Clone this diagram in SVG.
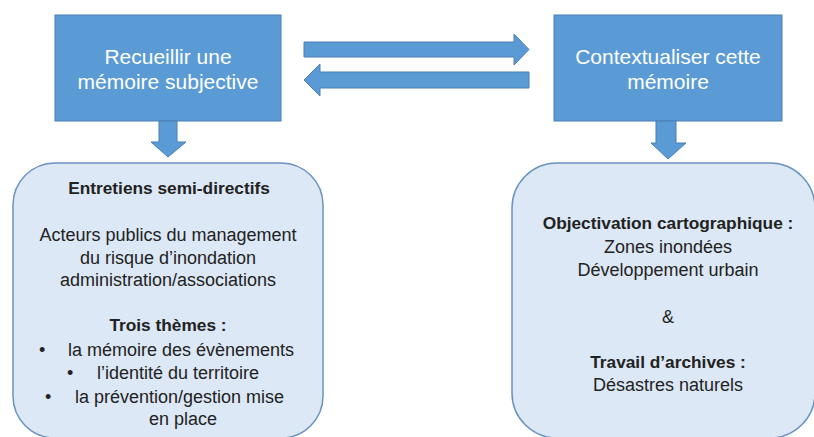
<svg xmlns="http://www.w3.org/2000/svg" width="814" height="437" viewBox="0 0 814 437">
<style>
.top{fill:#5b9bd5;stroke:#4a7fb5;stroke-width:1}
.ttxt{font-family:"Liberation Sans",Arial,sans-serif;font-size:21px;fill:#ffffff;text-anchor:middle}
.box{fill:#dce8f5;stroke:#6a93bf;stroke-width:1.5}
.t{font-family:"Liberation Sans",Arial,sans-serif;font-size:18px;fill:#222222}
.c{text-anchor:middle}
.b{font-weight:bold;font-size:17.3px}
.arr{fill:#5b9bd5;stroke:#4a7fb5;stroke-width:1}
</style>
<rect width="814" height="437" fill="#ffffff"/>
<g id="recueillir">
<rect class="top" x="55" y="15" width="226" height="106"/>
<text class="ttxt" x="168" y="64">Recueillir une</text>
<text class="ttxt" x="168" y="89">mémoire subjective</text>
</g>
<g id="contextualiser">
<rect class="top" x="554" y="15" width="228" height="106"/>
<text class="ttxt" x="668" y="64">Contextualiser cette</text>
<text class="ttxt" x="668" y="89">mémoire</text>
</g>
<g id="entretiens">
<rect class="box" x="13" y="163" width="310" height="275" rx="42"/>
<text class="t c b" x="169" y="194">Entretiens semi-directifs</text>
<text class="t c" x="168" y="241">Acteurs publics du management</text>
<text class="t c" x="168" y="264">du risque d’inondation</text>
<text class="t c" x="168" y="286">administration/associations</text>
<text class="t c b" x="168" y="331">Trois thèmes :</text>
<text class="t" x="39" y="356">•</text>
<text class="t" x="68" y="356">la mémoire des évènements</text>
<text class="t" x="67" y="379">•</text>
<text class="t" x="97" y="379">l’identité du territoire</text>
<text class="t" x="45" y="403">•</text>
<text class="t" x="75" y="403">la prévention/gestion mise</text>
<text class="t c" x="183" y="425">en place</text>
</g>
<g id="objectivation">
<rect class="box" x="512" y="163" width="303" height="275" rx="45"/>
<text class="t c b" x="668" y="229">Objectivation cartographique :</text>
<text class="t c" x="668" y="253">Zones inondées</text>
<text class="t c" x="668" y="276">Développement urbain</text>
<text class="t c" x="668" y="323">&amp;</text>
<text class="t c b" x="668" y="368">Travail d’archives :</text>
<text class="t c" x="668" y="391">Désastres naturels</text>
</g>
<g id="connectors">
<polygon class="arr" points="159,121 177,121 177,142 186,142 168,157 151,142 159,142"/>
<polygon class="arr" points="656,121 676,121 676,143 686,143 668,159 651,143 656,143"/>
<polygon class="arr" points="304,42 514,42 514,34 529,49.5 514,65 514,57 304,57"/>
<polygon class="arr" points="529,72 320,72 320,64 304,80 320,96 320,88 529,88"/>
</g>
</svg>
